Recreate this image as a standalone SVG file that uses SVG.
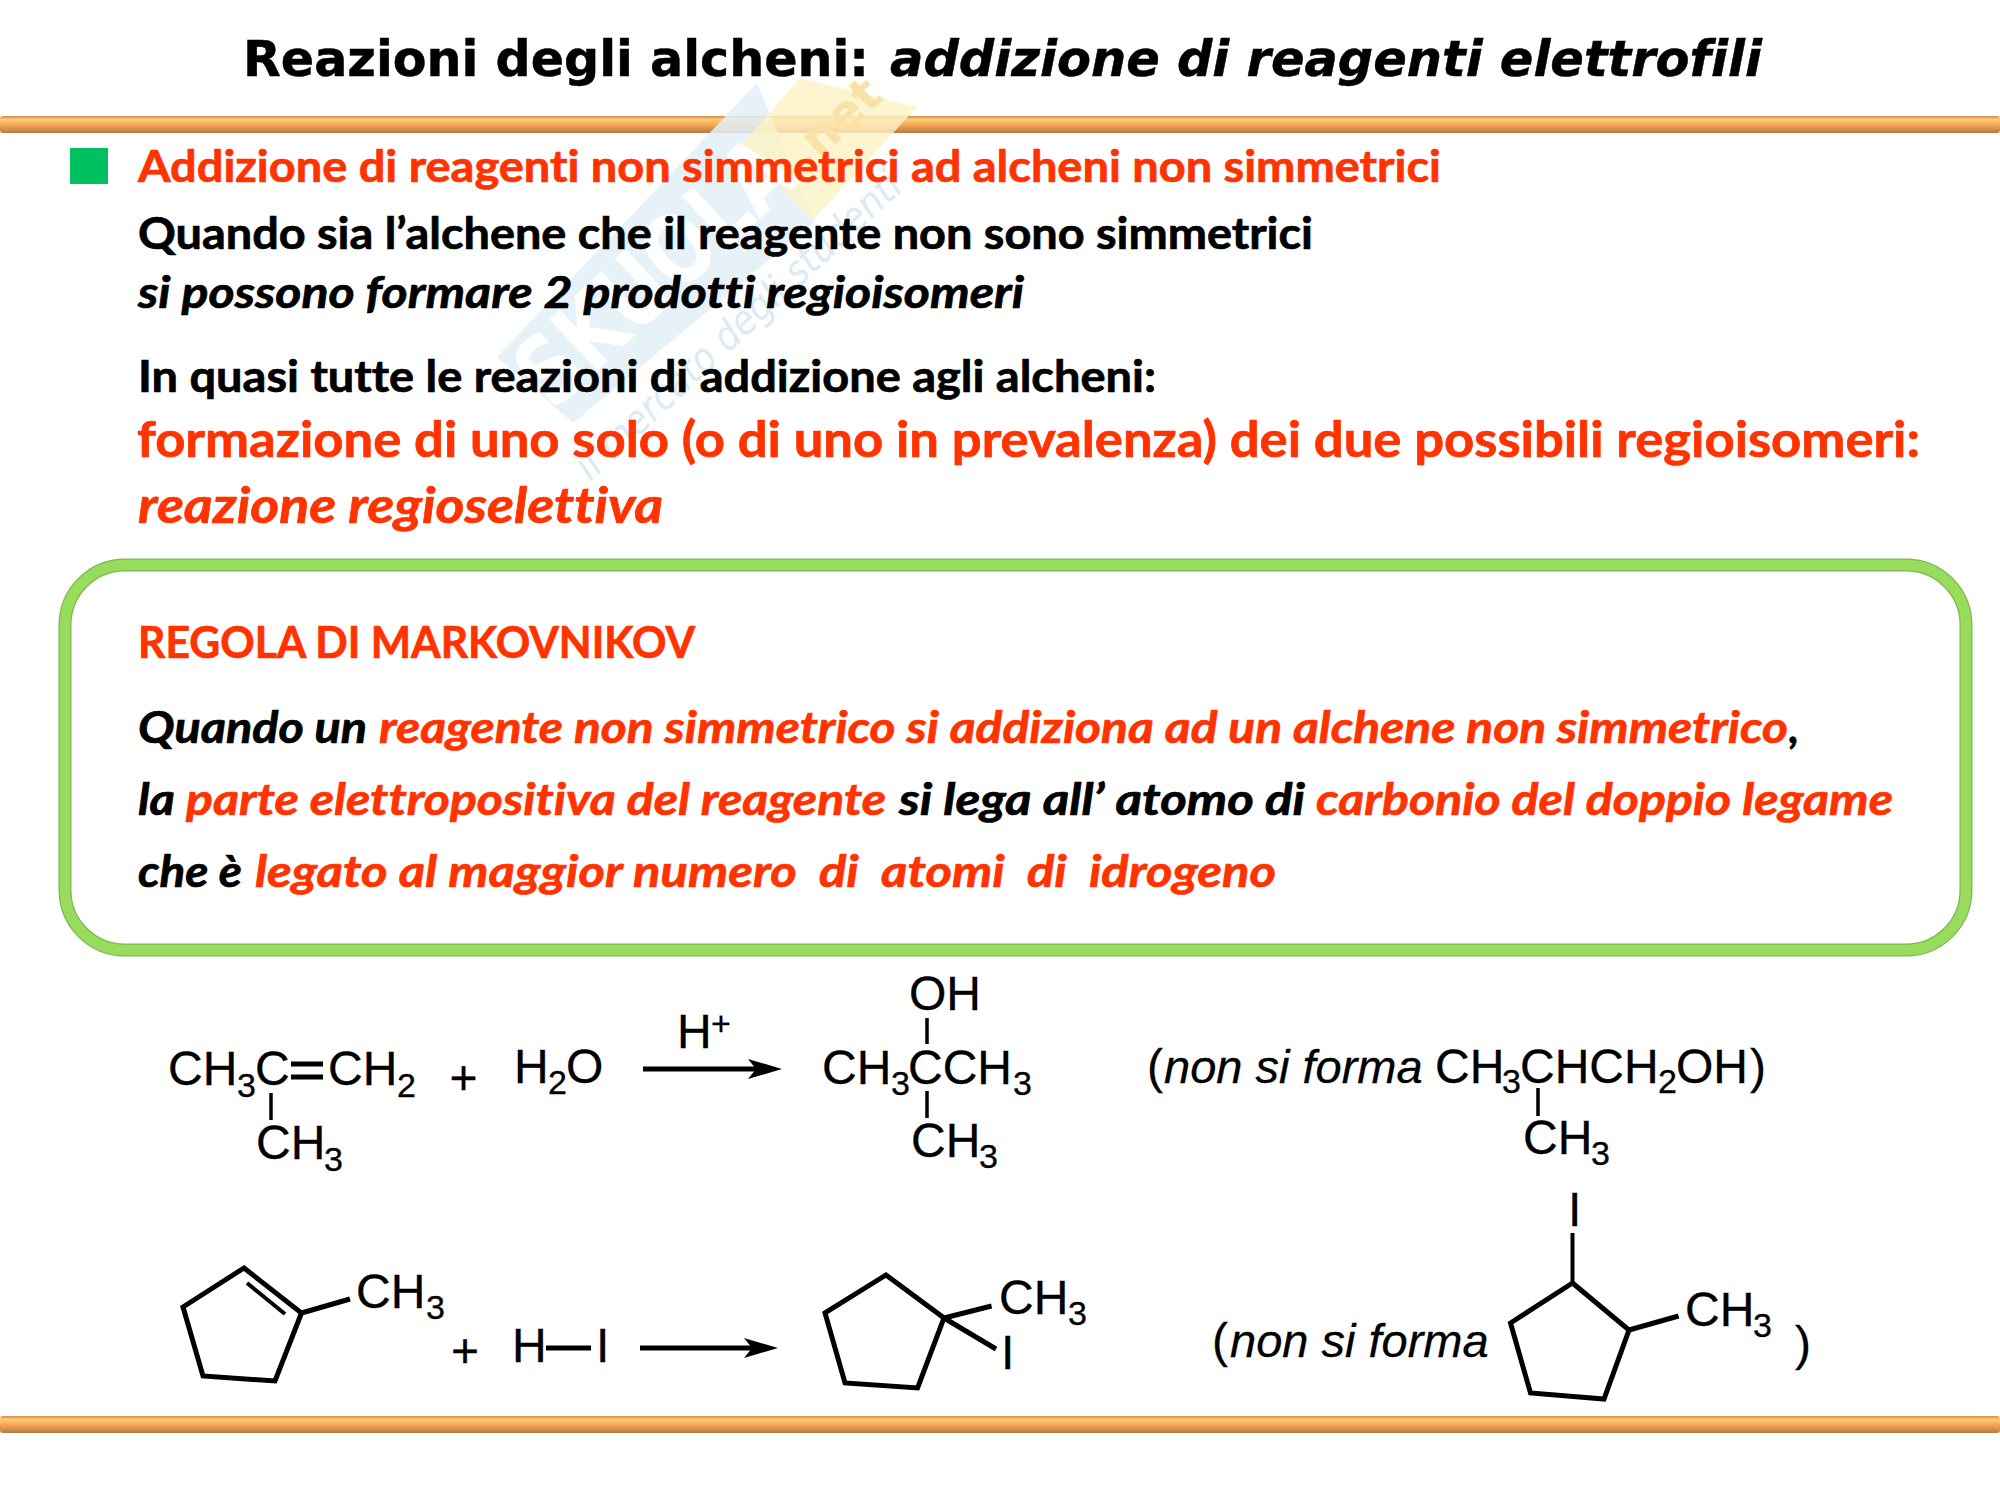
<svg xmlns="http://www.w3.org/2000/svg" width="2000" height="1500" viewBox="0 0 2000 1500">
<style>
text{white-space:pre;font-variant-ligatures:none}
.t{font-family:"DejaVu Sans",sans-serif;font-weight:700;font-size:50px;fill:#000;stroke:#000;stroke-width:.5}
.b{font-family:Lato,"Open Sans",sans-serif;font-weight:700;font-size:43.5px;fill:#000;stroke:#000;stroke-width:.7}
.r{fill:#ff3300;stroke:#ff3300}
.big{font-size:49px}
.it{font-style:italic}
.c{font-family:"Liberation Sans",Arial,sans-serif;font-size:48px;fill:#000;stroke:#000;stroke-width:.3}
.s{font-size:34px}
.bond{stroke:#000;stroke-width:3.5;fill:none}
.ring{stroke:#000;stroke-width:5;fill:none;stroke-linejoin:miter}
.arrow{stroke:#000;stroke-width:5;fill:none;marker-end:url(#head)}
.bar{fill:url(#barg)}
.wm{font-family:"DejaVu Sans",sans-serif}
</style>
<defs>
<linearGradient id="barg" x1="0" y1="0" x2="0" y2="1">
<stop offset="0" stop-color="#cf8c45"/><stop offset="0.2" stop-color="#ffcb78"/><stop offset="0.55" stop-color="#f5a350"/><stop offset="1" stop-color="#b57a48"/>
</linearGradient>
<marker id="head" markerUnits="userSpaceOnUse" markerWidth="36" markerHeight="26" refX="24" refY="13" orient="auto" viewBox="0 0 36 26">
<path d="M0,3 L34,13 L0,23 L8,13 Z" fill="#000"/>
</marker>
</defs>
<rect width="2000" height="1500" fill="#fff"/>
<g id="bars">
<rect class="bar" x="0" y="116" width="2000" height="17" rx="3"/>
<rect class="bar" x="0" y="1416" width="2000" height="17" rx="3"/>
</g>
<g id="watermark">
<polygon points="497,357 757,83 815,222 573,423" fill="#e2f0f7" opacity="0.85"/>
<polygon points="800,78 917,107 813,220 740,147" fill="#fdf3c4" opacity="0.8"/>
<text class="wm" transform="translate(553,412) rotate(-43)" textLength="340" lengthAdjust="spacingAndGlyphs" font-weight="700" font-size="96" fill="#fff">SKUOLA</text>
<text class="wm" transform="translate(806,172) rotate(-43)" font-weight="700" font-size="48" fill="#f8e2a8">.net</text>
<text class="wm" transform="translate(590,482) rotate(-43)" textLength="430" lengthAdjust="spacingAndGlyphs" font-style="italic" font-size="40" fill="#dcebf3">il mercato degli studenti</text>
</g>
<g id="title">
<text class="t" x="243" y="76" textLength="626" lengthAdjust="spacingAndGlyphs">Reazioni degli alcheni:</text>
<text class="t it" x="890" y="76" textLength="872" lengthAdjust="spacingAndGlyphs">addizione di reagenti elettrofili</text>
</g>
<g id="bullet"><rect x="70" y="148" width="38" height="36" fill="#00c060"/></g>
<g id="intro">
<text class="b r" x="138" y="182" textLength="1303" lengthAdjust="spacingAndGlyphs">Addizione di reagenti non simmetrici ad alcheni non simmetrici</text>
<text class="b" x="138" y="249" textLength="1175" lengthAdjust="spacingAndGlyphs">Quando sia l’alchene che il reagente non sono simmetrici</text>
<text class="b it" x="138" y="308" textLength="886" lengthAdjust="spacingAndGlyphs">si possono formare 2 prodotti regioisomeri</text>
<text class="b" x="138" y="392" textLength="1018" lengthAdjust="spacingAndGlyphs">In quasi tutte le reazioni di addizione agli alcheni:</text>
<text class="b r big" x="137" y="457" textLength="1783" lengthAdjust="spacingAndGlyphs">formazione di uno solo (o di uno in prevalenza) dei due possibili regioisomeri:</text>
<text class="b r big it" x="138" y="523" textLength="525" lengthAdjust="spacingAndGlyphs">reazione regioselettiva</text>
</g>
<g id="rule">
<rect x="65" y="565" width="1901" height="385" rx="60" fill="none" stroke="#7fb84f" stroke-width="13"/>
<rect x="65" y="565" width="1901" height="385" rx="60" fill="none" stroke="#97dc5c" stroke-width="10.5"/>
<text class="b r" x="138" y="658" textLength="557" lengthAdjust="spacingAndGlyphs">REGOLA DI MARKOVNIKOV</text>
<text class="b it" x="138" y="743" textLength="229" lengthAdjust="spacingAndGlyphs">Quando un</text>
<text class="b it r" x="379" y="743" textLength="1409" lengthAdjust="spacingAndGlyphs">reagente non simmetrico si addiziona ad un alchene non simmetrico</text>
<text class="b it" x="1789" y="743">,</text>
<text class="b it" x="138" y="815" textLength="37" lengthAdjust="spacingAndGlyphs">la</text>
<text class="b it r" x="186" y="815" textLength="700" lengthAdjust="spacingAndGlyphs">parte elettropositiva del reagente</text>
<text class="b it" x="899" y="815" textLength="406" lengthAdjust="spacingAndGlyphs">si lega all’ atomo di</text>
<text class="b it r" x="1316" y="815" textLength="577" lengthAdjust="spacingAndGlyphs">carbonio del doppio legame</text>
<text class="b it" x="138" y="887" textLength="104" lengthAdjust="spacingAndGlyphs">che è</text>
<text class="b it r" x="255" y="887" textLength="1021" lengthAdjust="spacingAndGlyphs">legato al maggior numero  di  atomi  di  idrogeno</text>
</g>
<g id="connectors">
<line class="arrow" x1="643" y1="1069" x2="772" y2="1069"/>
<line class="arrow" x1="640" y1="1348" x2="768" y2="1348"/>
</g>
<g id="alkene1">
<text class="c"><tspan x="168" y="1085">CH</tspan><tspan class="s" x="237" y="1097">3</tspan><tspan x="255" y="1085">C</tspan><tspan x="328" y="1085">CH</tspan><tspan class="s" x="397" y="1097">2</tspan></text>
<text class="c"><tspan x="256" y="1159">CH</tspan><tspan class="s" x="324" y="1171">3</tspan></text>
<path class="bond" style="stroke-width:5" d="M291,1064H323M291,1077H323"/>
<path class="bond" d="M271,1093V1120"/>
</g>
<g id="plus1"><text class="c" x="463.5" y="1094" text-anchor="middle">+</text></g>
<g id="water"><text class="c"><tspan x="514" y="1083">H</tspan><tspan class="s" x="548" y="1094">2</tspan><tspan x="566" y="1083">O</tspan></text></g>
<g id="catalyst"><text class="c"><tspan x="677" y="1048">H</tspan><tspan class="s" x="711" y="1035">+</tspan></text></g>
<g id="product1">
<text class="c" x="909" y="1010">OH</text>
<text class="c"><tspan x="822" y="1084">CH</tspan><tspan class="s" x="891" y="1095">3</tspan><tspan x="908" y="1084">CCH</tspan><tspan class="s" x="1013" y="1095">3</tspan></text>
<text class="c"><tspan x="911" y="1157">CH</tspan><tspan class="s" x="979" y="1168">3</tspan></text>
<path class="bond" d="M927,1018V1044M927,1091V1118"/>
</g>
<g id="not1">
<text class="c"><tspan x="1147" y="1083">(</tspan><tspan class="it" x="1164" y="1083" style="font-size:47px">non si forma</tspan><tspan x="1435" y="1083">CH</tspan><tspan class="s" x="1502" y="1093">3</tspan><tspan x="1520" y="1083">CHCH</tspan><tspan class="s" x="1658" y="1093">2</tspan><tspan x="1676" y="1083">OH</tspan><tspan x="1750" y="1083">)</tspan></text>
<text class="c"><tspan x="1523" y="1154">CH</tspan><tspan class="s" x="1591" y="1165">3</tspan></text>
<path class="bond" d="M1538,1088V1116"/>
</g>
<g id="alkene2">
<path class="ring" d="M244,1268L301.5,1313L275,1381L203,1376L183,1307Z"/>
<path class="bond" style="stroke-width:4" d="M247,1283L285,1314"/>
<path class="ring" d="M301.5,1313L350,1299"/>
<text class="c"><tspan x="356" y="1308">CH</tspan><tspan class="s" x="426" y="1319">3</tspan></text>
</g>
<g id="plus2"><text class="c" x="465" y="1367" text-anchor="middle">+</text></g>
<g id="hi">
<text class="c"><tspan x="512" y="1362">H</tspan><tspan x="596" y="1362">I</tspan></text>
<path class="ring" d="M546,1348H591"/>
</g>
<g id="product2">
<path class="ring" d="M886,1275L944,1318L917.6,1388L845,1383L825,1313Z"/>
<path class="ring" d="M944,1318L991.6,1306M944,1318L996,1349"/>
<text class="c"><tspan x="999" y="1314">CH</tspan><tspan class="s" x="1068" y="1325">3</tspan></text>
<text class="c" x="1001" y="1369">I</text>
</g>
<g id="not2">
<text class="c"><tspan x="1212" y="1357">(</tspan><tspan class="it" x="1230" y="1357" style="font-size:47px">non si forma</tspan><tspan x="1795" y="1360">)</tspan></text>
<text class="c" x="1568" y="1226">I</text>
<path class="bond" style="stroke-width:4" d="M1572.5,1233V1283"/>
<path class="ring" d="M1572.5,1283L1629,1330L1604,1399L1530.5,1393L1510.5,1323Z"/>
<path class="ring" d="M1629,1330L1678.6,1316"/>
<text class="c"><tspan x="1685" y="1326">CH</tspan><tspan class="s" x="1753" y="1337">3</tspan></text>
</g>
</svg>
